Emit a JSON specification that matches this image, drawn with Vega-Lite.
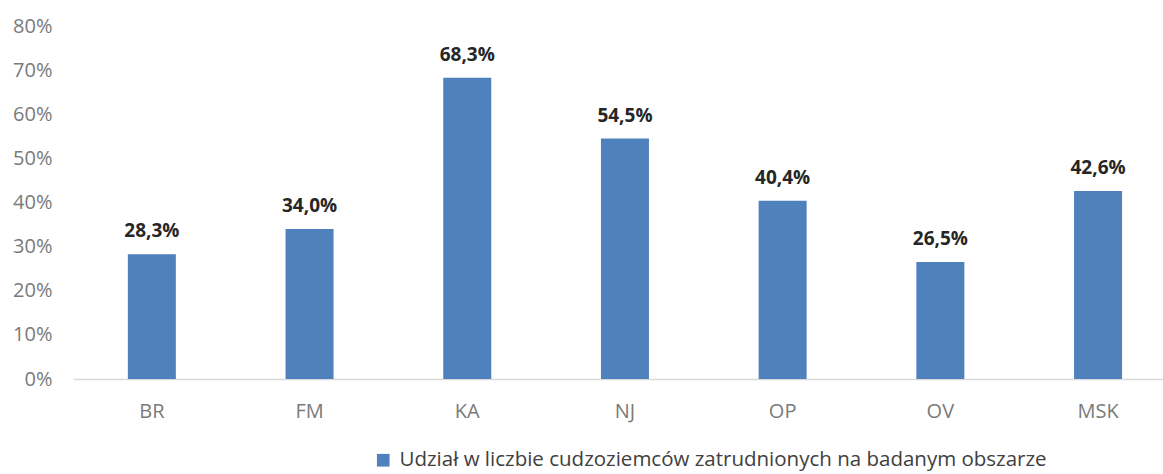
{
  "$schema": "https://vega.github.io/schema/vega-lite/v6.json",
  "width": 1090,
  "height": 353,
  "autosize": {"type": "none"},
  "padding": {"left": 73, "top": 26, "right": 0, "bottom": 95},
  "background": "white",
  "data": {
    "values": [
      {"region": "BR", "share": 0.283, "series": "Udział w liczbie cudzoziemców zatrudnionych na badanym obszarze"},
      {"region": "FM", "share": 0.340, "series": "Udział w liczbie cudzoziemców zatrudnionych na badanym obszarze"},
      {"region": "KA", "share": 0.683, "series": "Udział w liczbie cudzoziemców zatrudnionych na badanym obszarze"},
      {"region": "NJ", "share": 0.545, "series": "Udział w liczbie cudzoziemców zatrudnionych na badanym obszarze"},
      {"region": "OP", "share": 0.404, "series": "Udział w liczbie cudzoziemców zatrudnionych na badanym obszarze"},
      {"region": "OV", "share": 0.265, "series": "Udział w liczbie cudzoziemców zatrudnionych na badanym obszarze"},
      {"region": "MSK", "share": 0.426, "series": "Udział w liczbie cudzoziemców zatrudnionych na badanym obszarze"}
    ]
  },
  "encoding": {
    "x": {
      "field": "region", "type": "nominal", "sort": null,
      "scale": {"paddingInner": 0.6956, "paddingOuter": 0.3037, "align": 0.5725},
      "axis": {
        "title": null, "labelAngle": 0, "ticks": false,
        "domainColor": "#d9d9d9", "domainWidth": 1.5,
        "labelFont": "Open Sans", "labelFontSize": 20, "labelColor": "#7a7a7a",
        "labelPadding": 22
      }
    },
    "y": {
      "field": "share", "type": "quantitative",
      "scale": {"domain": [0, 0.8], "nice": false},
      "axis": {
        "title": null, "format": ".0%", "values": [0, 0.1, 0.2, 0.3, 0.4, 0.5, 0.6, 0.7, 0.8],
        "labelOverlap": false,
        "grid": false, "domain": false, "ticks": false,
        "labelFont": "Open Sans", "labelFontSize": 20, "labelColor": "#7a7a7a",
        "labelPadding": 21
      }
    }
  },
  "layer": [
    {
      "mark": {"type": "bar", "color": "#4f81bd"},
      "encoding": {
        "color": {
          "field": "series", "type": "nominal",
          "scale": {"range": ["#4f81bd"]},
          "legend": {
            "title": null, "orient": "none", "legendX": 300, "legendY": 424,
            "symbolType": "square", "symbolSize": 160, "symbolStrokeWidth": 0,
            "labelFont": "Open Sans", "labelFontSize": 20.5, "labelColor": "#404040",
            "labelLimit": 800, "labelOffset": 6
          }
        }
      }
    },
    {
      "mark": {"type": "text", "font": "Open Sans", "fontWeight": "bold", "fontSize": 19, "color": "#262626", "baseline": "alphabetic", "dy": -17},
      "encoding": {
        "text": {"field": "share", "type": "quantitative", "format": ".1%"}
      }
    }
  ],
  "config": {
    "view": {"stroke": null},
    "locale": {
      "number": {"decimal": ",", "thousands": " ", "grouping": [3], "currency": ["", " zł"]}
    }
  }
}
